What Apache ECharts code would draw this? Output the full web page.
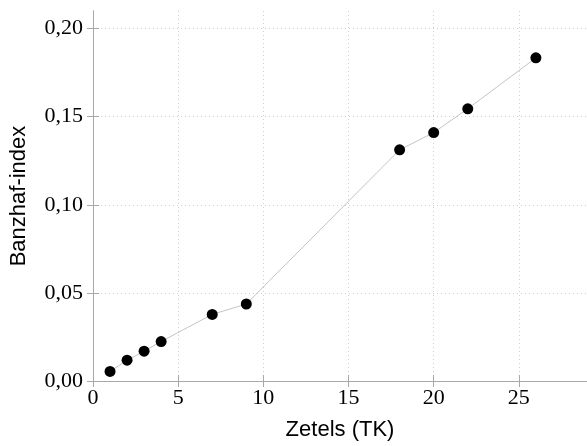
<!DOCTYPE html>
<html>
<head>
<meta charset="utf-8">
<script src="https://cdn.jsdelivr.net/npm/echarts@6/dist/echarts.min.js"></script>
<style>html,body{margin:0;padding:0;background:#fff;}#c{width:587px;height:446px;}</style>
</head>
<body>
<div id="c"></div>
<script>
const seats = [1, 2, 3, 4, 7, 9, 18, 20, 22, 26];
const banzhaf = [0.0054, 0.0118, 0.0169, 0.0224, 0.0378, 0.0437, 0.1312, 0.1410, 0.1545, 0.1834];
const xTicks = [0, 5, 10, 15, 20, 25];
const yTicks = [0, 0.05, 0.10, 0.15, 0.20];

const frame = '#a8a8a8';
const gridC = '#cfcfcf';
const isTick = (arr, v) => arr.some(t => Math.abs(t - v) < 1e-9);

const chart = echarts.init(document.getElementById('c'), null, {renderer: 'canvas'});
const line = {show: true, lineStyle: {color: frame, width: 1}};
const tickX = {show: true, inside: true, length: 6, customValues: xTicks, lineStyle: {color: frame}};
const tickY = {show: true, inside: true, length: 6, customValues: yTicks, lineStyle: {color: frame}};
chart.setOption({
  animation: false,
  grid: {left: 93, top: 11, right: -4, bottom: 64, containLabel: false},
  xAxis: [{
    type: 'value', min: 0, max: 29, interval: 5, position: 'bottom',
    axisLine: line, axisTick: tickX,
    name: 'Zetels (TK)', nameLocation: 'middle', nameGap: 38,
    nameTextStyle: {fontFamily: 'Liberation Sans', fontSize: 22, color: '#000'},
    axisLabel: {fontFamily: 'Liberation Serif', fontSize: 22, color: '#000', margin: 6,
      customValues: xTicks, formatter: v => String(v)},
    splitLine: {show: true, lineStyle: {color: gridC, type: [1, 3], width: 1}}
  }, {
    type: 'value', min: 0, max: 29, interval: 5, position: 'top',
    axisLine: line, axisTick: tickX, axisLabel: {show: false}, splitLine: {show: false}
  }],
  yAxis: [{
    type: 'value', min: 0, max: 0.21, interval: 0.05, position: 'left',
    axisLine: line, axisTick: tickY,
    name: 'Banzhaf-index', nameLocation: 'middle', nameGap: 63,
    nameTextStyle: {fontFamily: 'Liberation Sans', fontSize: 22, color: '#000'},
    axisLabel: {fontFamily: 'Liberation Serif', fontSize: 22, color: '#000', margin: 10,
      customValues: yTicks, formatter: v => v.toFixed(2).replace('.', ',')},
    splitLine: {show: true, lineStyle: {color: gridC, type: [1, 3], width: 1}}
  }, {
    type: 'value', min: 0, max: 0.21, interval: 0.05, position: 'right',
    axisLine: line, axisTick: tickY, axisLabel: {show: false}, splitLine: {show: false}
  }],
  series: [{
    type: 'line',
    data: seats.map((s, i) => [s, banzhaf[i]]),
    symbol: 'circle', symbolSize: 11,
    itemStyle: {color: '#000'},
    lineStyle: {color: '#c4c4c4', width: 1},
    z: 3
  }]
});
</script>
</body>
</html>
